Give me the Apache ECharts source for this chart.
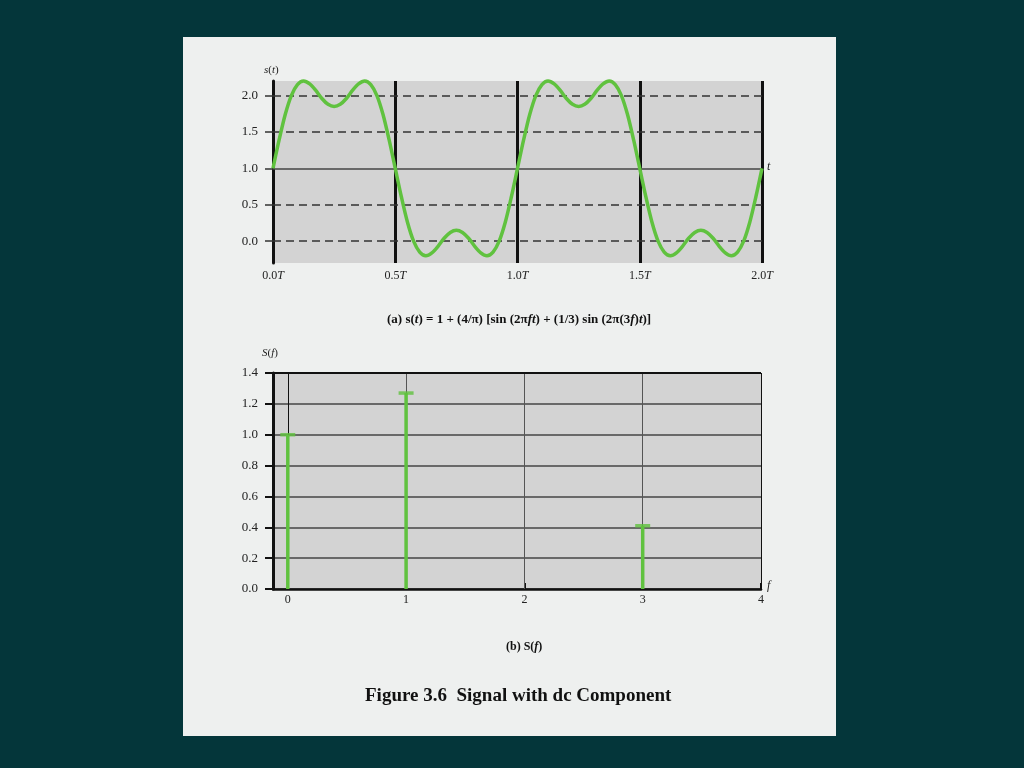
<!DOCTYPE html>
<html>
<head>
<meta charset="utf-8">
<script src="https://cdn.jsdelivr.net/npm/echarts@6/dist/echarts.min.js"></script>
<style>
  html, body { margin: 0; padding: 0; background: #04363a; }
  #panel { position: absolute; left: 183px; top: 37px; width: 653px; height: 699px; background: #eef0ef; }
  #chart { position: absolute; left: 0; top: 0; width: 1024px; height: 768px; }
</style>
</head>
<body>
<div id="panel"></div>
<div id="chart"></div>
<script>
const tVals = [
  0.000, 0.025, 0.050, 0.075, 0.100, 0.125, 0.150, 0.175, 0.200, 0.225,
  0.250, 0.275, 0.300, 0.325, 0.350, 0.375, 0.400, 0.425, 0.450, 0.475,
  0.500, 0.525, 0.550, 0.575, 0.600, 0.625, 0.650, 0.675, 0.700, 0.725,
  0.750, 0.775, 0.800, 0.825, 0.850, 0.875, 0.900, 0.925, 0.950, 0.975,
  1.000, 1.025, 1.050, 1.075, 1.100, 1.125, 1.150, 1.175, 1.200, 1.225,
  1.250, 1.275, 1.300, 1.325, 1.350, 1.375, 1.400, 1.425, 1.450, 1.475,
  1.500, 1.525, 1.550, 1.575, 1.600, 1.625, 1.650, 1.675, 1.700, 1.725,
  1.750, 1.775, 1.800, 1.825, 1.850, 1.875, 1.900, 1.925, 1.950, 1.975,
  2.000
];
const sVals = [
  1.00, 1.39, 1.74, 2.00, 2.15, 2.20, 2.16, 2.07, 1.96, 1.88,
  1.85, 1.88, 1.96, 2.07, 2.16, 2.20, 2.15, 2.00, 1.74, 1.39,
  1.00, 0.61, 0.26, 0.00, -0.15, -0.20, -0.16, -0.07, 0.04, 0.12,
  0.15, 0.12, 0.04, -0.07, -0.16, -0.20, -0.15, 0.00, 0.26, 0.61,
  1.00, 1.39, 1.74, 2.00, 2.15, 2.20, 2.16, 2.07, 1.96, 1.88,
  1.85, 1.88, 1.96, 2.07, 2.16, 2.20, 2.15, 2.00, 1.74, 1.39,
  1.00, 0.61, 0.26, 0.00, -0.15, -0.20, -0.16, -0.07, 0.04, 0.12,
  0.15, 0.12, 0.04, -0.07, -0.16, -0.20, -0.15, 0.00, 0.26, 0.61,
  1.00
];
const sTicks = [0, 0.5, 1.0, 1.5, 2.0];
const sDashed = [0, 0.5, 1.5, 2.0];

// (b) spectrum
const fVals = [0, 1, 3];
const SVals = [1.00, 1.27, 0.41];
const fTicks = [0, 1, 2, 3, 4];

const green = '#60c23f';
const serif = '"Liberation Serif", "DejaVu Serif", serif';

const chart = echarts.init(document.getElementById('chart'));

const curve = tVals.map((t, i) => [t, sVals[i]]);
const stems = fVals.map((f, i) => [f, SVals[i]]);

const option = {
  animation: false,
  backgroundColor: 'transparent',
  textStyle: { fontFamily: serif },
  grid: [
    { left: 273, top: 81, width: 489, height: 182, show: true, backgroundColor: '#d3d3d3', borderWidth: 0 },
    { left: 273, top: 373, width: 488, height: 216, show: true, backgroundColor: '#d3d3d3', borderWidth: 0 }
  ],
  xAxis: [
    {
      type: 'value', gridIndex: 0, min: 0, max: 2, interval: 0.5,
      axisLine: { show: false },
      axisTick: { show: false },
      splitLine: { show: true, lineStyle: { color: '#111', width: 3 } },
      axisLabel: {
        margin: 7,
        formatter: v => '{n|' + v.toFixed(1) + '}{i|T}',
        rich: {
          n: { fontFamily: serif, fontSize: 12, color: '#222' },
          i: { fontFamily: serif, fontSize: 12, color: '#222', fontStyle: 'italic' }
        }
      }
    },
    {
      type: 'value', gridIndex: 1, min: -0.125, max: 4,
      axisLine: { show: true, onZero: false, lineStyle: { color: '#111', width: 2.5 } },
      axisTick: { show: true, inside: true, length: 6, customValues: [2, 4], lineStyle: { color: '#111', width: 2 } },
      splitLine: { show: false },
      axisLabel: { customValues: fTicks, margin: 5, fontFamily: serif, fontSize: 12, color: '#222' }
    }
  ],
  yAxis: [
    {
      type: 'value', gridIndex: 0, min: -0.3, max: 2.2,
      axisLine: { show: true, onZero: false, lineStyle: { color: '#111', width: 3 } },
      axisTick: { show: true, length: 8, customValues: sTicks, lineStyle: { color: '#333', width: 1.5 } },
      splitLine: { show: false },
      axisLabel: {
        customValues: sTicks, margin: 15, fontFamily: serif, fontSize: 13, color: '#222',
        formatter: v => v.toFixed(1)
      }
    },
    {
      type: 'value', gridIndex: 1, min: 0, max: 1.4, interval: 0.2,
      axisLine: { show: true, onZero: false, lineStyle: { color: '#111', width: 3 } },
      axisTick: { show: true, length: 8, lineStyle: { color: '#111', width: 2 } },
      splitLine: { show: true, lineStyle: { color: '#444', width: 1.5 } },
      axisLabel: {
        margin: 15, fontFamily: serif, fontSize: 13, color: '#222',
        formatter: v => v.toFixed(1)
      }
    }
  ],
  series: [
    {
      // horizontal guide lines of (a)
      type: 'line', xAxisIndex: 0, yAxisIndex: 0, data: [], z: 1, silent: true,
      markLine: {
        silent: true, symbol: 'none', label: { show: false },
        data: sDashed.map(v => ({ yAxis: v, lineStyle: { color: '#333', width: 1.5, type: [8, 5] } }))
          .concat([{ yAxis: 1.0, lineStyle: { color: '#444', width: 1.5, type: 'solid' } }])
      }
    },
    {
      type: 'line', xAxisIndex: 0, yAxisIndex: 0, data: curve, z: 5,
      smooth: 0.3, showSymbol: false, clip: false,
      lineStyle: { color: green, width: 3.5 }
    },
    {
      // vertical guide lines of (b)
      type: 'line', xAxisIndex: 1, yAxisIndex: 1, data: [], z: 1, silent: true,
      markLine: {
        silent: true, symbol: 'none', label: { show: false },
        data: fTicks.map(v => ({
          xAxis: v,
          lineStyle: { color: (v === 0 || v === 4) ? '#111' : '#555', width: 1, type: 'solid' }
        })).concat([{ yAxis: 1.4, lineStyle: { color: '#111', width: 2, type: 'solid' } }])
      }
    },
    {
      type: 'bar', xAxisIndex: 1, yAxisIndex: 1, data: stems, z: 5,
      barWidth: 3.5, itemStyle: { color: green }
    },
    {
      type: 'scatter', xAxisIndex: 1, yAxisIndex: 1, data: stems, z: 6,
      symbol: 'rect', symbolSize: [15, 3.5], itemStyle: { color: green }
    }
  ],
  graphic: [
    {
      type: 'text', left: 264, top: 65,
      style: {
        text: '{i|s}{n|(}{i|t}{n|)}',
        rich: {
          n: { fontFamily: serif, fontSize: 11, fill: '#222' },
          i: { fontFamily: serif, fontSize: 11, fill: '#222', fontStyle: 'italic' }
        }
      }
    },
    {
      type: 'text', left: 767, top: 161,
      style: { text: 't', font: 'italic 12px ' + serif, fill: '#222' }
    },
    {
      type: 'text', left: 387, top: 313,
      style: {
        text: '{b|(a) s(}{bi|t}{b|) = 1 + (4/π) [sin (2π}{bi|ft}{b|) + (1/3) sin (2π(3}{bi|f}{b|)}{bi|t}{b|)]}',
        rich: {
          b: { fontFamily: serif, fontSize: 13, fontWeight: 'bold', fill: '#111' },
          bi: { fontFamily: serif, fontSize: 13, fontWeight: 'bold', fontStyle: 'italic', fill: '#111' }
        }
      }
    },
    {
      type: 'text', left: 262, top: 348,
      style: {
        text: '{i|S}{n|(}{i|f}{n|)}',
        rich: {
          n: { fontFamily: serif, fontSize: 11, fill: '#222' },
          i: { fontFamily: serif, fontSize: 11, fill: '#222', fontStyle: 'italic' }
        }
      }
    },
    {
      type: 'text', left: 767, top: 580,
      style: { text: 'f', font: 'italic 12px ' + serif, fill: '#222' }
    },
    {
      type: 'text', left: 506, top: 641,
      style: {
        text: '{b|(b) S(}{bi|f}{b|)}',
        rich: {
          b: { fontFamily: serif, fontSize: 12, fontWeight: 'bold', fill: '#111' },
          bi: { fontFamily: serif, fontSize: 12, fontWeight: 'bold', fontStyle: 'italic', fill: '#111' }
        }
      }
    },
    {
      type: 'text', left: 365, top: 687,
      style: { text: 'Figure 3.6  Signal with dc Component', font: 'bold 19px ' + serif, fill: '#111' }
    }
  ]
};

chart.setOption(option);
</script>
</body>
</html>
